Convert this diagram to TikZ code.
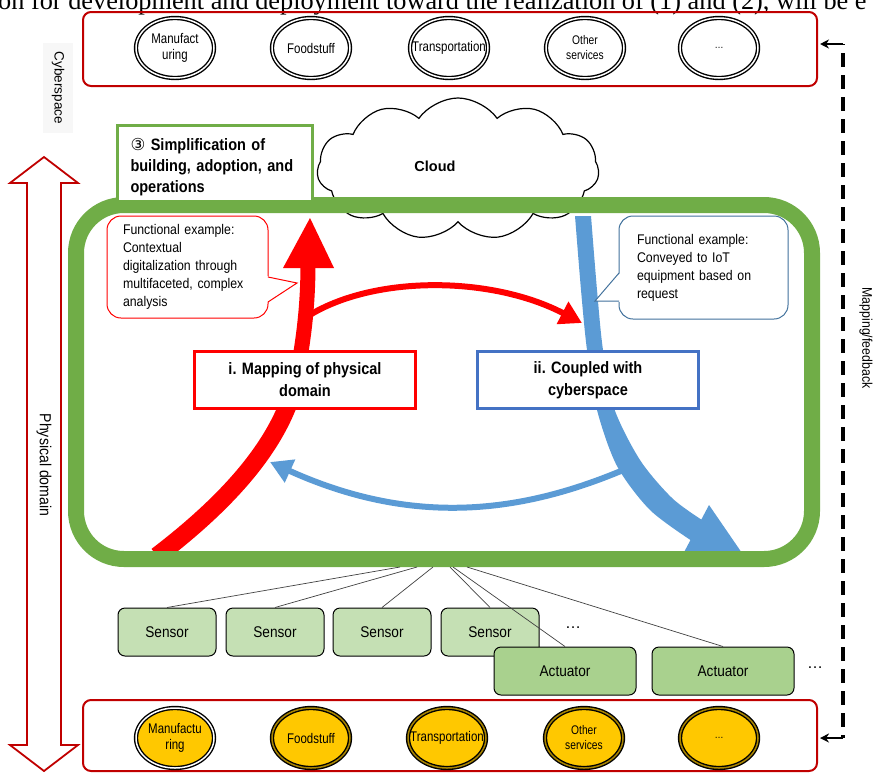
\documentclass[tikz,border=0pt]{standalone}
\usepackage{fontspec}
\setmainfont{Liberation Sans}
\newfontfamily\narrowsf[FakeStretch=0.88]{Liberation Sans}
\newfontfamily\ringsf[FakeStretch=0.82]{Liberation Sans}
\newfontfamily\symsf{DejaVu Sans}
\newfontfamily\bodyserif{Liberation Serif}
\usetikzlibrary{shapes.geometric,shapes.symbols,arrows.meta}

\definecolor{frameRed}{HTML}{C00000}
\definecolor{pureRed}{HTML}{FF0000}
\definecolor{skyBlue}{HTML}{5B9BD5}
\definecolor{labelBlue}{HTML}{4472C4}
\definecolor{calloutBlue}{HTML}{41719C}
\definecolor{leafGreen}{HTML}{70AD47}
\definecolor{sensorFill}{HTML}{C5E0B4}
\definecolor{actuatorFill}{HTML}{A9D18E}
\definecolor{gold}{HTML}{FFC800}
\definecolor{goldRing}{HTML}{A88400}

\begin{document}
\begin{tikzpicture}[x=1pt,y=-1pt,
  domainframe/.style={draw=frameRed, line width=2, rounded corners=8, minimum width=734, inner sep=0},
  ring/.style={ellipse, minimum width=78, minimum height=60, inner sep=0, line width=1.4, double distance=1.5},
  cyberring/.style={ring, draw=black, double=white, fill=white},
  physring/.style={ring, draw=black, double=goldRing, fill=gold},
  ringtext/.style={font=\ringsf\fontsize{14}{16}\selectfont, align=center, inner sep=0},
  sidelabel/.style={rotate=-90, inner sep=0},
  labelbox/.style={draw, line width=3, fill=white, minimum width=221, minimum height=57, align=center,
    font=\narrowsf\bfseries\fontsize{16.5}{22}\selectfont},
  callbox/.style={draw, line width=1, fill=white, rounded corners=14, align=left,
    font=\narrowsf\fontsize{14}{18}\selectfont},
  device/.style={draw=black, line width=1, rounded corners=7, minimum height=48, inner sep=0,
    font=\narrowsf\fontsize{15.5}{16}\selectfont},
  sensorbox/.style={device, fill=sensorFill, minimum width=98},
  actuatorbox/.style={device, fill=actuatorFill, minimum width=142},
  wire/.style={draw=black!75, line width=0.7},
  more/.style={font=\fontsize{16}{16}\selectfont, inner sep=0},
  fbarrow/.style={line width=2, -{Stealth[length=9,width=9]}},
]
\useasboundingbox (0,0) rectangle (874,774);

% running text of the page, cut by the top edge
\node[anchor=base west, inner sep=0, font=\bodyserif\fontsize{26.3}{27}\selectfont] (lead) at (-2,9)
  {on for development and deployment toward the realization of (1) and (2), will be e};

% ---------- cyberspace row ----------
\node[domainframe, minimum height=74] (cyberframe) at (450,49) {};
\node[cyberring] (cmanu) at (175,48) {};
\node[ringtext] (cmanut) at (cmanu) {Manufact\\uring};
\node[cyberring] (cfood) at (311,48) {};
\node[ringtext] (cfoodt) at (cfood) {Foodstuff};
\node[cyberring] (ctrans) at (449,48) {};
\node[ringtext] (ctranst) at (ctrans) {Transportation};
\node[cyberring] (cother) at (585,48) {};
\node[ringtext, font=\ringsf\fontsize{12.5}{15}\selectfont] (cothert) at (cother) {Other\\services};
\node[cyberring] (cmore) at (719,48) {};
\node[ringtext, font=\ringsf\fontsize{11}{12}\selectfont] (cmoret) at (cmore) {…};

\node[sidelabel, fill=black!3, minimum width=90, minimum height=30, font=\fontsize{13.5}{14}\selectfont]
  (cyberlabel) at (58,88) {Cyberspace};

% ---------- physical domain span ----------
\draw[draw=frameRed, line width=1.8, fill=white]
  (44,157) -- (78,183) -- (61,183) -- (61,745) -- (78,745) -- (44,771)
  -- (10,745) -- (27,745) -- (27,183) -- (10,183) -- cycle;
\node[sidelabel, font=\narrowsf\fontsize{16}{16}\selectfont] (physlabel) at (44,465) {Physical domain};

% ---------- cloud ----------
\node[cloud, draw, line width=1.2, fill=white, cloud puffs=11, cloud puff arc=110, cloud ignores aspect,
  minimum width=282, minimum height=142, inner sep=0] (cloud) at (458,169) {};
\node[font=\bfseries\fontsize{14.5}{15}\selectfont, inner sep=0] (cloudlabel) at (435,166) {Cloud};

% ---------- flows inside the platform ----------
% i. upward flow, thinner towards its head
\draw[pureRed, line width=18] (157,556) .. controls (250,485) and (288,425) .. (298,370);
\draw[pureRed, line width=15] (298,370) .. controls (305,330) and (308,300) .. (308,262);
\fill[pureRed] (283,268) -- (310,218) -- (334,268) -- cycle;
% ii. downward flow, widening towards the bottom
\fill[skyBlue] plot[smooth] coordinates {(575,216) (581,290) (587,350) (597,410) (617,466) (650,510) (692,541)}
  -- plot[smooth] coordinates {(702,520) (672,498) (640,460) (614,408) (603,350) (597,290) (591,216)} -- cycle;
\fill[skyBlue] (709,505) -- (744,556) -- (682,556) -- cycle;
% exchange arrows
\draw[pureRed, line width=6, -{Triangle[length=22,width=24]}]
  (305,318) .. controls (370,275) and (490,275) .. (582,323);
\draw[skyBlue, line width=6, -{Triangle[length=22,width=24]}]
  (628,468) .. controls (530,510) and (420,530) .. (270,462);

% ---------- platform ----------
\node[draw=leafGreen, line width=16, rounded corners=48, minimum width=736, minimum height=354, inner sep=0]
  (platform) at (444,382) {};

\node[draw=leafGreen, line width=3, fill=white, minimum width=195, minimum height=76, inner sep=0]
  (simplify) at (215,163.5) {};
\node[text width=170, align=left, inner sep=0, font=\narrowsf\bfseries\fontsize{16.5}{21}\selectfont]
  (simplifytext) at (215.5,167)
  {{\symsf\mdseries ③} Simplification of\\building, adoption, and\\operations};

\node[labelbox, draw=pureRed] (mapping) at (305,380) {i. Mapping of physical\\domain};
\node[labelbox, draw=labelBlue] (coupled) at (588,380) {ii. Coupled with\\cyberspace};

% callouts
\node[callbox, draw=pureRed, minimum width=161, minimum height=102, inner xsep=16, text width=129]
  (redcall) at (187.5,267)
  {Functional example:\\Contextual\\digitalization through\\multifaceted, complex\\analysis};
\fill[white] (266,276) -- (297,283) -- (266,303) -- cycle;
\draw[pureRed, line width=1] (268,277) -- (297,283) -- (268,302);

\node[callbox, draw=calloutBlue, minimum width=169, minimum height=103, inner xsep=18, text width=133]
  (bluecall) at (703.5,267.5)
  {Functional example:\\Conveyed to IoT\\equipment based on\\request};
\fill[white] (621,272) -- (595,301) -- (621,302) -- cycle;
\draw[calloutBlue, line width=1] (619,273) -- (595,301) -- (619,301);

% ---------- sensors and actuators ----------
\coordinate (f1) at (400,567);
\coordinate (f2) at (417,567);
\coordinate (f3) at (433,567);
\coordinate (f4) at (450,567);
\coordinate (f5) at (453,567);
\coordinate (f6) at (467,567);

\node[sensorbox] (s1) at (167,632) {Sensor};
\node[sensorbox] (s2) at (275,632) {Sensor};
\node[sensorbox] (s3) at (382,632) {Sensor};
\node[sensorbox] (s4) at (490,632) {Sensor};

\draw[wire] (f1) -- (s1.north);
\draw[wire] (f2) -- (s2.north);
\draw[wire] (f3) -- (s3.north);
\draw[wire] (f4) -- (s4.north);

\node[more] (smore) at (573,628) {…};

\node[actuatorbox] (a1) at (565,671) {Actuator};
\node[actuatorbox] (a2) at (723,671) {Actuator};
\draw[wire] (f5) -- (a1.north);
\draw[wire] (f6) -- (a2.north);
\node[more] (amore) at (815,668) {…};

% ---------- physical row ----------
\node[domainframe, minimum height=71] (physframe) at (450,735.5) {};
\node[physring, double=white] (pmanu) at (175,738) {};
\node[ringtext] (pmanut) at (pmanu) {Manufactu\\ring};
\node[physring] (pfood) at (311,738) {};
\node[ringtext] (pfoodt) at (pfood) {Foodstuff};
\node[physring] (ptrans) at (447,738) {};
\node[ringtext] (ptranst) at (ptrans) {Transportation};
\node[physring] (pother) at (584,738) {};
\node[ringtext, font=\ringsf\fontsize{12.5}{15}\selectfont] (pothert) at (pother) {Other\\services};
\node[physring] (pmore) at (719,738) {};
\node[ringtext, font=\ringsf\fontsize{11}{12}\selectfont] (pmoret) at (pmore) {…};

% ---------- mapping / feedback loop ----------
\coordinate (fbtop) at (843,44);
\coordinate (fbbot) at (843,738);
\coordinate (cyberin) at (820,44);
\coordinate (physin) at (820,738);
\draw[line width=3.4, dash pattern=on 14 off 8, dash phase=-9] (fbtop) -- (fbbot);
\draw[fbarrow] (fbtop) -- (cyberin);
\draw[fbarrow] (fbbot) -- (physin);
\node[sidelabel, font=\narrowsf\fontsize{14}{14}\selectfont] (fblabel) at (866,338) {Mapping/feedback};

\end{tikzpicture}
\end{document}
